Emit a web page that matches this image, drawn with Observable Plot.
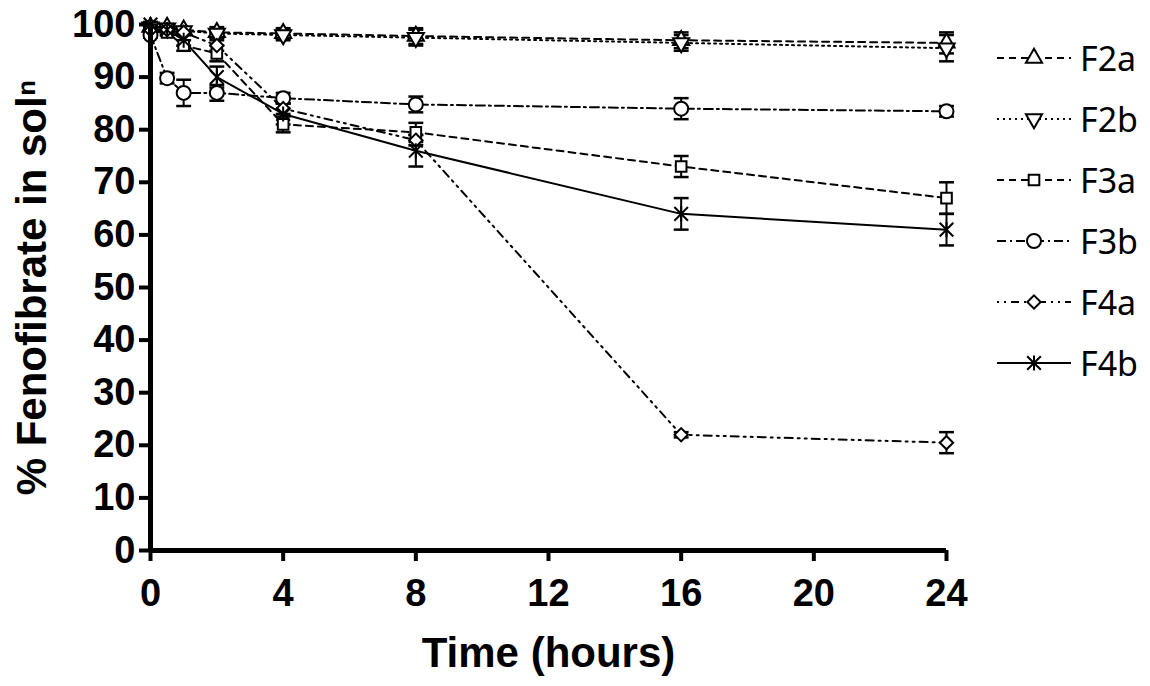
<!DOCTYPE html>
<html>
<head>
<meta charset="utf-8">
<script src="https://cdn.jsdelivr.net/npm/d3@7"></script>
<script src="https://cdn.jsdelivr.net/npm/@observablehq/plot@0.6"></script>
<style>
  body { margin: 0; background: #fff; }
  #wrap { position: relative; width: 1150px; height: 686px; }
  #legend { position: absolute; left: 994px; top: 27px; font-family: "Noto Sans", "Open Sans", sans-serif; font-size: 34px; color: #000; }
  .row { display: flex; align-items: center; height: 61px; }
  .row svg { margin-right: 6px; }
</style>
</head>
<body>
<div id="wrap"><div id="legend"></div></div>
<script>
// ---- data ----
const times = [0, 0.5, 1, 2, 4, 8, 16, 24];
const seriesNames = ["F2a", "F2b", "F3a", "F3b", "F4a", "F4b"];
const F2a = [99.5, 99.5, 99.0, 98.5, 98.3, 97.8, 97.0, 96.5];
const F2b = [99.5, 99.3, 98.8, 98.3, 98.0, 97.5, 96.5, 95.5];
const F3a = [99.0, 98.5, 96.0, 94.5, 81.0, 79.5, 73.0, 67.0];
const F3b = [98.0, 89.8, 87.0, 87.0, 86.0, 84.8, 84.0, 83.5];
const F4a = [99.0, 99.0, 98.5, 96.0, 84.0, 78.0, 22.0, 20.5];
const F4b = [100.0, 99.0, 97.0, 90.0, 83.0, 76.0, 64.0, 61.0];
const sdF2a = [0.5, 0.5, 0.5, 1.0, 1.0, 1.5, 1.5, 2.0];
const sdF2b = [0.5, 0.5, 0.5, 0.8, 1.0, 1.5, 1.5, 2.5];
const sdF3a = [0.5, 0.5, 1.0, 1.5, 1.5, 1.8, 2.0, 3.0];
const sdF3b = [0.5, 1.0, 2.5, 1.5, 1.0, 1.5, 2.0, 1.0];
const sdF4a = [0.5, 0.5, 0.5, 1.0, 1.0, 1.0, 0.5, 2.0];
const sdF4b = [0.5, 0.5, 1.0, 2.0, 2.0, 3.0, 3.0, 3.0];
const xTicks = [0, 4, 8, 12, 16, 20, 24];
const yTicks = [0, 10, 20, 30, 40, 50, 60, 70, 80, 90, 100];
const xLabel = "Time (hours)";
const yLabel = "% Fenofibrate in sol\u207F";

// ---- symbols ----
const sqrt3 = Math.sqrt(3);
const triangleDown = {
  draw(ctx, size) {
    const y = -Math.sqrt(size / (sqrt3 * 3));
    ctx.moveTo(0, -y * 2);
    ctx.lineTo(-sqrt3 * y, y);
    ctx.lineTo(sqrt3 * y, y);
    ctx.closePath();
  }
};
const capSymbol = {
  draw(ctx, size) {
    const w = Math.sqrt(size) * 0.6;
    ctx.moveTo(-w, 0);
    ctx.lineTo(w, 0);
  }
};
const starX = {
  draw(ctx, size) {
    const w = Math.sqrt(size) * 0.55;
    ctx.moveTo(-w, -w); ctx.lineTo(w, w);
    ctx.moveTo(-w, w); ctx.lineTo(w, -w);
    ctx.moveTo(0, -w * 1.1); ctx.lineTo(0, w * 1.1);
  }
};

const valuesBy = {F2a, F2b, F3a, F3b, F4a, F4b};
const sdBy = {F2a: sdF2a, F2b: sdF2b, F3a: sdF3a, F3b: sdF3b, F4a: sdF4a, F4b: sdF4b};
const style = {
  F2a: {symbol: "triangle", dash: "7,5", r: 6},
  F2b: {symbol: triangleDown, dash: "2,4", r: 6},
  F3a: {symbol: "square", dash: "7,5", r: 6},
  F3b: {symbol: "circle", dash: "9,4,2,4", r: 7},
  F4a: {symbol: "diamond2", dash: "2,5,2,5,8,5", r: 6},
  F4b: {symbol: starX, dash: null, r: 7}
};

const marks = [];
for (const name of seriesNames) {
  const rows = times.map((t, i) => ({t, v: valuesBy[name][i], sd: sdBy[name][i]}));
  const s = style[name];
  marks.push(Plot.line(rows, {x: "t", y: "v", stroke: "black", strokeWidth: 2, strokeDasharray: s.dash || undefined}));
  marks.push(Plot.ruleX(rows, {x: "t", y1: d => d.v - d.sd, y2: d => d.v + d.sd, stroke: "black", strokeWidth: 2}));
  marks.push(Plot.dot(rows, {x: "t", y: d => d.v - d.sd, symbol: capSymbol, r: 7, stroke: "black", strokeWidth: 2.5}));
  marks.push(Plot.dot(rows, {x: "t", y: d => d.v + d.sd, symbol: capSymbol, r: 7, stroke: "black", strokeWidth: 2.5}));
}
for (const name of seriesNames) {
  const rows = times.map((t, i) => ({t, v: valuesBy[name][i]}));
  const s = style[name];
  marks.push(Plot.dot(rows, {x: "t", y: "v", symbol: s.symbol, r: s.r, fill: "white", stroke: "black", strokeWidth: 2}));
}

const chart = Plot.plot({
  width: 1150,
  height: 686,
  marginLeft: 150,
  marginRight: 204,
  marginTop: 24,
  marginBottom: 136,
  style: {fontFamily: "'Liberation Sans', Arial, sans-serif", fontWeight: "bold", color: "black", background: "white"},
  x: {domain: [0, 24]},
  y: {domain: [0, 100]},
  marks: [
    ...marks,
    Plot.axisX({ticks: xTicks, tickSize: 11, tickPadding: 18, strokeWidth: 4, fontSize: 38, label: null}),
    Plot.axisY({ticks: yTicks, tickSize: 11, tickPadding: 4, strokeWidth: 4, fontSize: 38, label: null}),
    Plot.ruleX([0], {y1: 0, y2: 100, strokeWidth: 5, stroke: "black"}),
    Plot.ruleY([0], {x1: 0, x2: 24, strokeWidth: 5, stroke: "black"}),
    Plot.text([xLabel], {frameAnchor: "bottom", dy: 116, text: d => d, fontSize: 42, fontWeight: "bold"}),
    Plot.text([yLabel], {frameAnchor: "left", textAnchor: "middle", dx: -118, rotate: -90, text: d => d, fontSize: 42, fontWeight: "bold"})
  ]
});
document.getElementById("wrap").prepend(chart);

// ---- legend ----
const legend = d3.select("#legend");
for (const name of seriesNames) {
  const s = style[name];
  const row = legend.append("div").attr("class", "row");
  const svg = row.append("svg").attr("width", 80).attr("height", 30);
  svg.append("line").attr("x1", 3).attr("x2", 77).attr("y1", 15).attr("y2", 15)
    .attr("stroke", "black").attr("stroke-width", 2).attr("stroke-dasharray", s.dash);
  const type = typeof s.symbol === "string"
    ? {triangle: d3.symbolTriangle, square: d3.symbolSquare, circle: d3.symbolCircle, diamond2: d3.symbolDiamond2}[s.symbol]
    : s.symbol;
  svg.append("path").attr("transform", "translate(40,15)")
    .attr("d", d3.symbol(type, Math.PI * s.r * s.r)())
    .attr("fill", "white").attr("stroke", "black").attr("stroke-width", 2);
  row.append("span").text(name);
}
</script>
</body>
</html>
